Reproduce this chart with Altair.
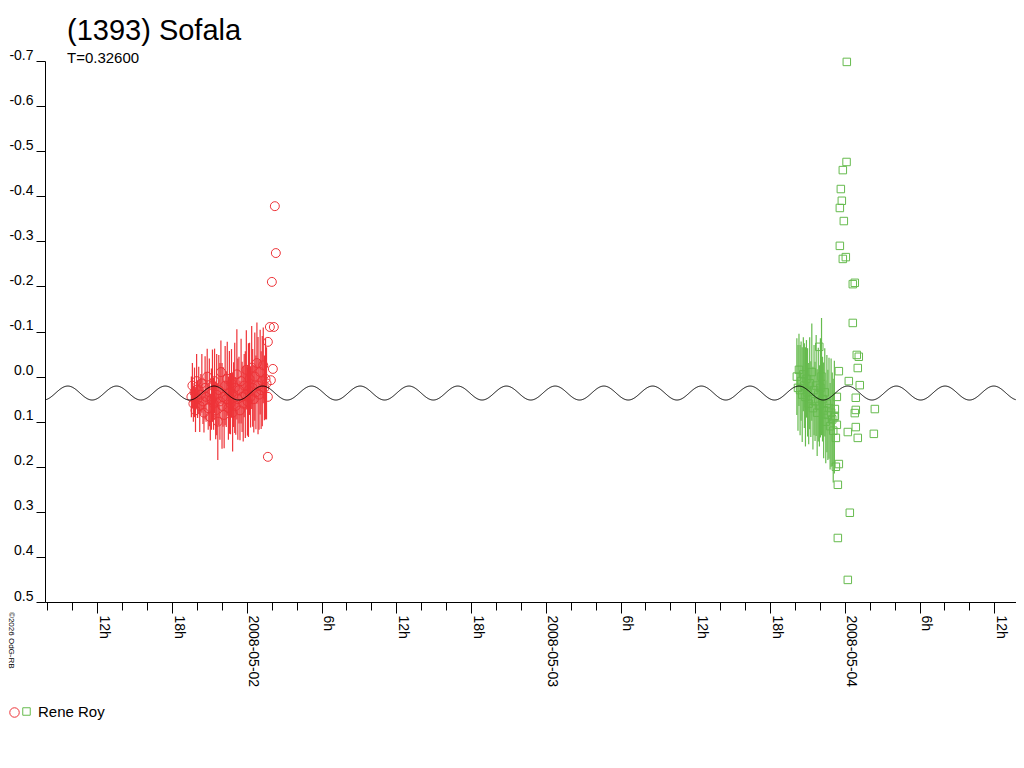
import altair as alt
import numpy as np
import pandas as pd

# ---- data (time in hours relative to 2008-05-02 00:00 UT, reduced magnitude) ----
red_t = [-4.45, -4.37, -4.29, -4.20, -4.12, -4.03, -3.95, -3.86, -3.78, -3.69,
         -3.61, -3.52, -3.44, -3.35, -3.27, -3.18, -3.10, -3.01, -2.93, -2.84,
         -2.76, -2.67, -2.59, -2.50, -2.42, -2.33, -2.25, -2.16, -2.08, -1.99,
         -1.91, -1.82, -1.74, -1.65, -1.57, -1.48, -1.40, -1.31, -1.23, -1.14,
         -1.06, -0.97, -0.89, -0.80, -0.72, -0.63, -0.55, -0.46, -0.38, -0.29,
         -0.21, -0.12, -0.04, 0.05, 0.13, 0.22, 0.30, 0.39, 0.47, 0.56,
         0.64, 0.73, 0.81, 0.90, 0.98, 1.07, 1.15, 1.24, 1.32, 1.41,
         1.50, 1.58]
red_mag = [0.045, 0.020, 0.060, 0.035, 0.075, 0.010, 0.050, 0.030, 0.065, 0.040,
           0.015, 0.055, 0.080, 0.025, 0.045, 0.000, 0.070, 0.035, 0.090, 0.050,
           0.020, 0.060, 0.010, 0.075, 0.040, 0.100, 0.030, 0.055, -0.010, 0.065,
           0.045, 0.085, 0.020, 0.050, 0.005, 0.070, 0.035, 0.060, 0.015, 0.080,
           0.040, 0.025, 0.065, -0.005, 0.050, 0.030, 0.075, 0.010, 0.045, 0.060,
           0.020, 0.040, -0.015, 0.055, 0.030, 0.005, 0.045, -0.020, 0.025, 0.050,
           0.000, 0.035, -0.030, 0.020, 0.040, -0.010, 0.030, 0.010, -0.025, 0.025,
           0.005, 0.015]
red_err = [0.045, 0.050, 0.040, 0.055, 0.048, 0.060, 0.042, 0.052, 0.058, 0.046,
           0.065, 0.050, 0.044, 0.070, 0.055, 0.062, 0.048, 0.075, 0.052, 0.068,
           0.080, 0.058, 0.072, 0.064, 0.090, 0.085, 0.078, 0.085, 0.070, 0.095,
           0.066, 0.074, 0.088, 0.062, 0.082, 0.070, 0.092, 0.068, 0.076, 0.086,
           0.072, 0.100, 0.064, 0.100, 0.090, 0.074, 0.066, 0.094, 0.078, 0.084,
           0.070, 0.096, 0.088, 0.076, 0.104, 0.080, 0.068, 0.092, 0.086, 0.074,
           0.098, 0.082, 0.090, 0.108, 0.078, 0.094, 0.086, 0.100, 0.084, 0.072,
           0.090, 0.080]
# red points plotted without error bars
red_extra_t = [2.25, 2.33, 2.01, 1.85, 2.17, 1.69, 2.09, 1.93, 1.69, 1.69]
red_extra_mag = [-0.378, -0.274, -0.210, -0.110, -0.110, -0.077, -0.017, 0.008, 0.045, 0.178]

grn_t = [44.15, 44.24, 44.32, 44.41, 44.49, 44.58, 44.67, 44.75, 44.84, 44.92,
         45.01, 45.10, 45.18, 45.27, 45.35, 45.44, 45.53, 45.61, 45.70, 45.78,
         45.87, 45.96, 46.04, 46.13, 46.21, 46.30, 46.39, 46.47, 46.56, 46.64,
         46.73, 46.82, 46.90, 46.99, 47.07, 47.16]
grn_mag = [0.000, 0.025, -0.015, 0.030, 0.010, 0.040, -0.005, 0.020, 0.045, 0.005,
           0.035, 0.060, 0.015, 0.050, -0.010, 0.070, 0.030, 0.055, 0.020, 0.080,
           0.040, 0.065, 0.025, 0.000, 0.050, 0.075, 0.035, 0.100, 0.060, 0.085,
           0.070, 0.110, 0.080, 0.095, 0.120, 0.090]
grn_err = [0.085, 0.095, 0.080, 0.100, 0.088, 0.105, 0.082, 0.094, 0.110, 0.086,
           0.098, 0.090, 0.102, 0.084, 0.108, 0.092, 0.100, 0.088, 0.112, 0.096,
           0.104, 0.090, 0.110, 0.130, 0.094, 0.106, 0.098, 0.092, 0.108, 0.100,
           0.112, 0.096, 0.120, 0.104, 0.115, 0.125]
grn_extra_t = [48.16, 48.14, 47.84, 47.68, 47.76, 47.60, 47.92, 47.60, 48.08, 47.84,
               48.64, 48.80, 48.64, 48.96, 49.12, 49.04, 47.52, 48.32, 49.20, 48.88,
               47.36, 50.41, 48.88, 48.80, 47.20, 47.20, 47.36, 48.88, 48.24, 50.33,
               49.04, 47.28, 47.52, 47.28, 47.44, 48.40, 47.44, 48.24, 45.95]
grn_extra_mag = [-0.698, -0.476, -0.458, -0.416, -0.390, -0.374, -0.345, -0.290, -0.265, -0.261,
                 -0.205, -0.208, -0.119, -0.048, -0.044, -0.019, -0.012, 0.010, 0.019, 0.047,
                 0.045, 0.072, 0.074, 0.081, 0.072, 0.087, 0.107, 0.112, 0.123, 0.127,
                 0.136, 0.136, 0.194, 0.200, 0.240, 0.302, 0.358, 0.451, -0.066]

sessions = ["s1", "s2"]
session_colors = ["#ee3338", "#66bb4e"]
session_shapes = ["circle", "square"]
observer = "Rene Roy"

# fitted model curve (period T in days, double-peaked lightcurve)
T_days = 0.326
curve_mean = 0.0365
curve_amp = 0.0155
curve_max_t = 5.19   # hours, a time of maximum brightness
x_min, x_max = -16.2, 61.74

y_ticks = [-0.7, -0.6, -0.5, -0.4, -0.3, -0.2, -0.1, 0.0, 0.1, 0.2, 0.3, 0.4, 0.5]
x_ticks = list(range(-16, 62, 2))

# ---- tables ----
pts = pd.concat([
    pd.DataFrame({"t": red_t, "mag": red_mag, "err": red_err, "session": "s1"}),
    pd.DataFrame({"t": red_extra_t, "mag": red_extra_mag, "err": 0.0, "session": "s1"}),
    pd.DataFrame({"t": grn_t, "mag": grn_mag, "err": grn_err, "session": "s2"}),
    pd.DataFrame({"t": grn_extra_t, "mag": grn_extra_mag, "err": 0.0, "session": "s2"}),
], ignore_index=True)
pts["marker"] = pts["session"].map(dict(zip(sessions, session_shapes)))

tc = np.arange(x_min, x_max + 0.001, 0.04)
half_period_h = T_days * 24 / 2
curve = pd.DataFrame({"t": tc,
                      "mag": curve_mean - curve_amp * np.cos(2 * np.pi * (tc - curve_max_t) / half_period_h)})

FONT = "Liberation Sans"

x_scale = alt.Scale(domain=[x_min, x_max], nice=False, zero=False)
y_scale = alt.Scale(domain=[-0.7, 0.5], reverse=True, nice=False, zero=False)
color_scale = alt.Scale(domain=sessions, range=session_colors)
shape_scale = alt.Scale(domain=session_shapes, range=session_shapes)

label_expr = ("datum.value % 6 !== 0 ? '' : datum.value === 0 ? '2008-05-02' : "
              "datum.value === 24 ? '2008-05-03' : datum.value === 48 ? '2008-05-04' : "
              "((datum.value % 24 + 24) % 24) + 'h'")

x_axis = alt.Axis(values=x_ticks, tickCount=500, title=None, grid=False, labelExpr=label_expr,
                  labelAngle=90, labelAlign="left", labelBaseline="alphabetic",
                  labelFont=FONT, labelFontSize=14, labelColor="black",
                  labelOverlap=False, labelFlush=False, labelBound=False,
                  labelPadding=2, labelOffset=2,
                  tickSize={"condition": {"test": "datum.value % 6 === 0", "value": 11}, "value": 8},
                  tickColor="black", domainColor="black", tickWidth=1, domainWidth=1)
y_axis = alt.Axis(values=y_ticks, tickCount=500, title=None, grid=False,
                  labelExpr="replace(format(datum.value, '.1f'), '\u2212', '-')",
                  labelFont=FONT, labelFontSize=14, labelColor="black",
                  labelBaseline="alphabetic", labelOffset=-2, labelPadding=3,
                  labelOverlap=False, labelFlush=False, labelBound=False,
                  tickSize=9, tickColor="black", domainColor="black", tickWidth=1, domainWidth=1)

# observer legend: red circle (session 1) followed by green square (session 2) and the name
leg_square = alt.Legend(title=None, orient="none", legendX=-26, legendY=643, direction="horizontal",
                        values=["s2"], symbolType="square", symbolSize=56,
                        labelExpr=f"'{observer}'",
                        labelFont=FONT, labelFontSize=15, labelColor="black",
                        symbolStrokeWidth=1, symbolFillColor="transparent",
                        labelOffset=4, padding=0)
leg_circle = alt.Legend(title=None, orient="none", legendX=-36, legendY=646, direction="horizontal",
                        values=["circle"], symbolSize=90, labelExpr="''",
                        symbolStrokeColor=session_colors[0], symbolStrokeWidth=1,
                        symbolFillColor="transparent", labelOffset=0, padding=0)

base = alt.Chart(pts)

bars = base.mark_rule(strokeWidth=1.2).transform_filter("datum.err > 0").transform_calculate(
    lo="datum.mag - datum.err", hi="datum.mag + datum.err"
).encode(
    x=alt.X("t:Q", scale=x_scale, axis=x_axis),
    y=alt.Y("lo:Q", scale=y_scale, axis=y_axis),
    y2="hi:Q",
    color=alt.Color("session:N", scale=color_scale, legend=leg_square),
)

points = base.mark_point(filled=False, strokeWidth=1, opacity=1).encode(
    x=alt.X("t:Q", scale=x_scale),
    y=alt.Y("mag:Q", scale=y_scale),
    color=alt.Color("session:N", scale=color_scale, legend=leg_square),
    shape=alt.Shape("marker:N", scale=shape_scale, legend=leg_circle),
    size=alt.Size("session:N", scale=alt.Scale(domain=sessions, range=[80, 56]), legend=None),
)

fit = alt.Chart(curve).mark_line(color="black", strokeWidth=1).encode(
    x=alt.X("t:Q", scale=x_scale),
    y=alt.Y("mag:Q", scale=y_scale),
)

credit = alt.Chart(pd.DataFrame({"txt": ["\u00a92026 OdG-RB"]})).mark_text(
    angle=90, align="left", baseline="alphabetic", font=FONT, fontSize=8, color="black"
).encode(x=alt.value(-36), y=alt.value(551), text="txt:N")

chart = alt.layer(bars, points, fit, credit).properties(
    width=971, height=541,
    background="white",
    autosize=alt.AutoSizeParams(type="none"),
    padding={"left": 37, "top": 53, "right": 0, "bottom": 150},
    title=alt.TitleParams(text="(1393) Sofala", subtitle="T=0.32600", anchor="start",
                          frame="group", dx=22,
                          font=FONT, fontSize=29, fontWeight="normal", color="black",
                          subtitleFont=FONT, subtitleFontSize=15, subtitleColor="black",
                          subtitlePadding=5, offset=-18),
).configure_view(stroke=None)

chart.save("out.html", embed_options={"renderer": "svg", "actions": False})
